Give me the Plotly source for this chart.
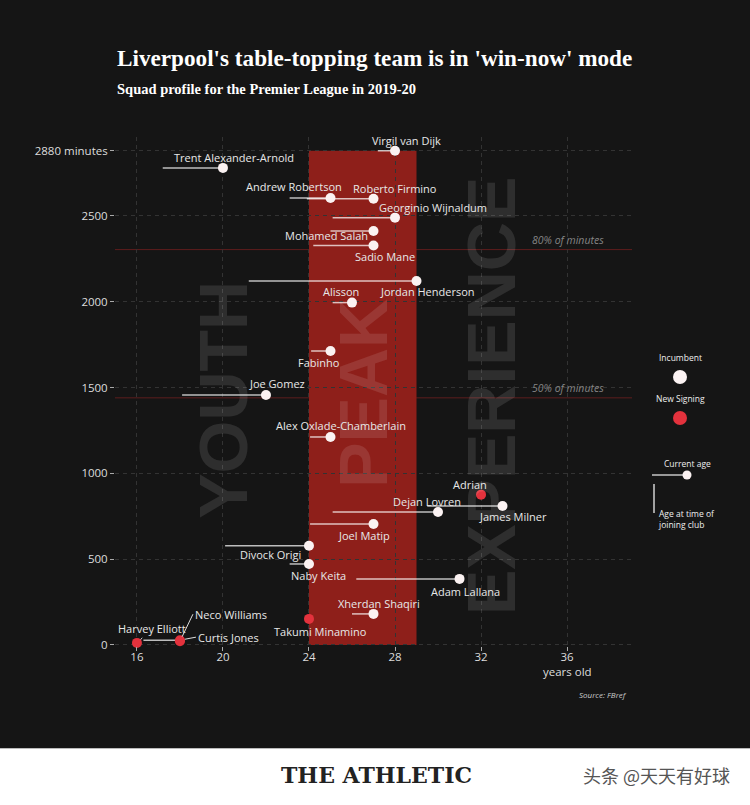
import plotly.graph_objects as go

# ---------------- data ----------------
players = ["Virgil van Dijk", "Trent Alexander-Arnold", "Andrew Robertson", "Roberto Firmino",
           "Georginio Wijnaldum", "Mohamed Salah", "Sadio Mane", "Jordan Henderson", "Alisson",
           "Fabinho", "Joe Gomez", "Alex Oxlade-Chamberlain", "Adrian", "Dejan Lovren",
           "James Milner", "Joel Matip", "Divock Origi", "Naby Keita", "Adam Lallana",
           "Xherdan Shaqiri", "Takumi Minamino", "Harvey Elliott", "Neco Williams", "Curtis Jones"]
current_age = [28, 20, 25, 27, 28, 27, 27, 29, 26, 25, 22, 25, 32, 30, 33, 27, 24, 24, 31, 27, 24, 16, 18, 18]
join_age = [27.2, 17.2, 23.1, 23.9, 25.1, 25.0, 24.2, 21.2, 25.1, 24.1, 18.1, 24.05, None, 25.1,
            29.5, 24.05, 20.1, 23.1, 26.2, 26.0, None, None, None, 16.3]
minutes = [2880, 2780, 2605, 2600, 2490, 2412, 2328, 2121, 1995, 1713, 1457, 1212, 876, 775,
           810, 705, 578, 472, 385, 181, 152, 12, 22, 28]
status = (["Incumbent"] * 12 + ["New Signing"] + ["Incumbent"] * 7 + ["New Signing"] * 4)

y_tickvals = [0, 500, 1000, 1500, 2000, 2500, 2880]
y_ticktext = ["0", "500", "1000", "1500", "2000", "2500", "2880 minutes"]
x_tickvals = [16, 20, 24, 28, 32, 36]
max_minutes = 2880
peak_ages = [24, 29]
thresholds = [0.8, 0.5]
zones = [("YOUTH", 20, 1428), ("PEAK", 26.5, 1468), ("EXPERIENCE", 32.47, 1451)]

# label offsets in pixels (dx right, dy down) relative to each dot
label_offsets = {
    "Virgil van Dijk": (11, -10), "Trent Alexander-Arnold": (11, -10), "Andrew Robertson": (-36, -11),
    "Roberto Firmino": (21, -10), "Georginio Wijnaldum": (38, -10), "Mohamed Salah": (-47, 4),
    "Sadio Mane": (11, 11), "Jordan Henderson": (11, 11), "Alisson": (-11, -11), "Fabinho": (-11, 11),
    "Joe Gomez": (11, -11), "Alex Oxlade-Chamberlain": (11, -11), "Adrian": (-11, -10),
    "Dejan Lovren": (-11, -10), "James Milner": (10, 11), "Joel Matip": (-10, 12),
    "Divock Origi": (-38, 9), "Naby Keita": (10, 12), "Adam Lallana": (6, 13),
    "Xherdan Shaqiri": (5, -10), "Takumi Minamino": (12, 13),
}
# leader-line labels: (ax, ay, xanchor)
leader_labels = {"Harvey Elliott": (15, -14, "center"), "Neco Williams": (13, -27, "left"),
                 "Curtis Jones": (16, -3, "left")}

BG = "#151515"
RED_RECT = "#8e1f1a"
RED_DOT = "#e3323d"
WHITE_DOT = "#fbf2f2"
TXT = "#e8e8e8"
FONT = "Open Sans"
GRID = "#333333"

# plot area geometry (pixels)
L, T, W, H = 115, 137, 517, 509


def px(x):
    return (x - L) / W


def py(y):
    return (T + H - y) / H


fig = go.Figure()

# tenure lines
lx, ly = [], []
for ja, ca, m in zip(join_age, current_age, minutes):
    if ja is not None:
        lx += [ja, ca, None]
        ly += [m, m, None]
fig.add_trace(go.Scatter(x=lx, y=ly, mode="lines", line=dict(color="rgba(255,255,255,0.72)", width=1.5),
                         hoverinfo="skip", showlegend=False, cliponaxis=False))

for st, col in [("Incumbent", WHITE_DOT), ("New Signing", RED_DOT)]:
    idx = [i for i, s in enumerate(status) if s == st]
    fig.add_trace(go.Scatter(x=[current_age[i] for i in idx], y=[minutes[i] for i in idx],
                             mode="markers", marker=dict(color=col, size=10, line=dict(width=0)),
                             text=[players[i] for i in idx], hoverinfo="text", showlegend=False,
                             cliponaxis=False))

shapes = []
# peak zone
shapes.append(dict(type="rect", xref="x", yref="y", x0=peak_ages[0], x1=peak_ages[1], y0=0, y1=max_minutes,
                   fillcolor=RED_RECT, line=dict(width=0), layer="below"))
for t in thresholds:
    shapes.append(dict(type="line", xref="paper", yref="y", x0=0, x1=1, y0=t * max_minutes, y1=t * max_minutes,
                       line=dict(color="#5e1d1d", width=1), layer="below"))
# white footer band
shapes.append(dict(type="rect", xref="paper", yref="paper", x0=px(-5), x1=px(755), y0=py(810), y1=py(748),
                   fillcolor="white", line=dict(width=0), layer="below"))
shapes.append(dict(type="line", xref="paper", yref="paper", x0=px(0), x1=px(750), y0=py(748.5), y1=py(748.5),
                   line=dict(color="#bbbbbb", width=1), layer="below"))
# legend glyphs
shapes.append(dict(type="circle", xref="paper", yref="paper", x0=px(673), x1=px(687), y0=py(384), y1=py(370),
                   fillcolor=WHITE_DOT, line=dict(width=0)))
shapes.append(dict(type="circle", xref="paper", yref="paper", x0=px(673), x1=px(687), y0=py(425), y1=py(411),
                   fillcolor=RED_DOT, line=dict(width=0)))
shapes.append(dict(type="line", xref="paper", yref="paper", x0=px(652), x1=px(687), y0=py(475), y1=py(475),
                   line=dict(color="rgba(255,255,255,0.75)", width=1.5)))
shapes.append(dict(type="circle", xref="paper", yref="paper", x0=px(682.5), x1=px(691.5), y0=py(479.5), y1=py(470.5),
                   fillcolor=WHITE_DOT, line=dict(width=0)))
shapes.append(dict(type="line", xref="paper", yref="paper", x0=px(654), x1=px(654), y0=py(513), y1=py(484),
                   line=dict(color="rgba(255,255,255,0.8)", width=1.5)))

ann = []


def paper_text(text, x, y, size, color, family=FONT, xanchor="center", align="center"):
    ann.append(dict(x=px(x), y=py(y), xref="paper", yref="paper", xanchor=xanchor, yanchor="middle",
                    showarrow=False, text=text, align=align, font=dict(family=family, size=size, color=color)))


# zone watermarks
for txt, zx, zy in zones:
    ann.append(dict(x=zx, y=zy, xref="x", yref="y", text=f"<b>{txt}</b>", showarrow=False, textangle=-90,
                    xanchor="center", yanchor="middle",
                    font=dict(family="Liberation Sans", size=68, color="rgba(255,255,255,0.11)")))
# threshold labels
for t in thresholds:
    ann.append(dict(x=36.05, y=t * max_minutes, xref="x", yref="y", yshift=10, showarrow=False,
                    text=f"<i>{int(t * 100)}% of minutes</i>",
                    font=dict(family=FONT, size=10.5, color="#858585")))
# player labels
for name, ca, m in zip(players, current_age, minutes):
    if name in label_offsets:
        dx, dy = label_offsets[name]
        ann.append(dict(x=ca, y=m, xref="x", yref="y", text=name, showarrow=False, xshift=dx, yshift=-dy,
                        xanchor="center", yanchor="middle",
                        font=dict(family=FONT, size=11, color=TXT)))
    elif name in leader_labels:
        ax, ay, xa = leader_labels[name]
        ann.append(dict(x=ca, y=m, xref="x", yref="y", text=name, showarrow=True, ax=ax, ay=ay,
                        xanchor=xa, arrowhead=0, arrowwidth=1, arrowcolor="#dddddd", standoff=5,
                        font=dict(family=FONT, size=11, color=TXT)))
# titles
paper_text("<b>Liverpool's table-topping team is in 'win-now' mode</b>", 115, 58, 23.2, "white",
           family="Liberation Serif", xanchor="left")
paper_text("<b>Squad profile for the Premier League in 2019-20</b>", 115, 89, 14.5, "white",
           family="Liberation Serif", xanchor="left")
# axis notes
paper_text("years old", 567, 671, 11.5, "#dddddd")
paper_text("<i>Source: FBref</i>", 629, 694, 8, "#cccccc", xanchor="right")
# legend texts
paper_text("Incumbent", 680, 357, 8.5, "#eeeeee")
paper_text("New Signing", 680, 399, 8.5, "#eeeeee")
paper_text("Current age", 687, 464, 8.5, "#eeeeee")
paper_text("Age at time of<br>joining club", 656, 519, 8.5, "#eeeeee", xanchor="left", align="left")
# footer
paper_text("<b>THE ATHLETIC</b>", 376, 775, 22, "#222222", family="DejaVu Serif")
paper_text("头条 @天天有好球", 656, 775, 18, "#555555", family="Noto Sans CJK SC")

fig.update_layout(
    width=750, height=805,
    margin=dict(l=L, r=750 - L - W, t=T, b=805 - T - H),
    paper_bgcolor=BG, plot_bgcolor=BG,
    shapes=shapes, annotations=ann, showlegend=False,
    xaxis=dict(range=[14.98, 39.02], tickvals=x_tickvals, showgrid=True, gridcolor=GRID,
               griddash="4px,4px", gridwidth=1, zeroline=False, showline=False, ticks="outside",
               ticklen=4, tickcolor="#aaaaaa", ticklabelstandoff=-4,
               tickfont=dict(family=FONT, size=11.5, color="#dddddd")),
    yaxis=dict(range=[-6, 2960], tickvals=y_tickvals, ticktext=y_ticktext, showgrid=True,
               gridcolor=GRID, griddash="4px,4px", gridwidth=1, zeroline=False, showline=False,
               ticks="outside", ticklen=4, tickcolor="#aaaaaa",
               tickfont=dict(family=FONT, size=11.5, color="#dddddd")),
)

fig.write_html("out.html", config={"displayModeBar": False},
               post_script="document.body.style.margin='0';document.body.style.overflow='hidden';")
